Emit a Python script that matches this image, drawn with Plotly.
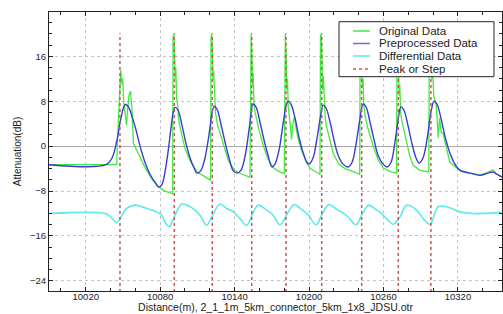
import plotly.graph_objects as go

# ---------------- data (distance m, attenuation dB) ----------------
orig_x = [9990.4, 10045.0, 10045.4, 10046.8, 10048.2, 10049.3, 10049.8, 10050.5, 10051.7, 10052.9,
          10053.7, 10054.9, 10056.1, 10057.3, 10058.4, 10062.1, 10067.8, 10073.4, 10078.3, 10083.9, 10090.0,
          10090.4, 10091.0, 10091.6, 10092.1, 10092.6, 10093.2, 10094.0, 10095.0, 10096.5, 10100.0,
          10104.0, 10109.7, 10115.0, 10120.6,
          10121.0, 10121.5, 10122.1, 10122.6, 10123.1, 10123.8, 10124.6, 10126.0, 10128.0, 10131.0,
          10135.0, 10140.0, 10146.0, 10152.4,
          10152.8, 10153.3, 10153.9, 10154.4, 10154.9, 10155.6, 10156.5, 10158.0, 10160.0, 10163.5,
          10167.0, 10171.0, 10175.0, 10180.0,
          10180.4, 10180.9, 10181.5, 10182.0, 10182.6, 10183.2, 10184.5, 10185.9, 10187.0, 10188.2,
          10189.3, 10191.0, 10194.0, 10198.0, 10201.0, 10205.0, 10208.8,
          10209.2, 10209.8, 10210.4, 10210.9, 10211.5, 10212.2, 10213.0, 10214.2, 10216.5, 10219.5,
          10224.0, 10229.0, 10234.0, 10240.8,
          10241.2, 10241.8, 10242.4, 10242.9, 10243.5, 10244.2, 10245.2, 10247.0, 10249.0, 10252.0,
          10256.0, 10260.0, 10265.0, 10270.5,
          10270.9, 10271.5, 10272.1, 10272.6, 10273.1, 10273.8, 10274.8, 10275.9, 10278.7, 10281.3,
          10284.0, 10289.4, 10296.5,
          10296.9, 10297.6, 10298.3, 10298.9, 10299.5, 10300.5, 10302.3, 10303.3, 10304.1, 10305.2,
          10306.5, 10308.0, 10310.7, 10313.4, 10314.7, 10321.6, 10329.6, 10337.7, 10342.0, 10345.5,
          10348.2, 10350.5, 10355.5]
orig_y = [-3.3, -3.3, 0.0, 8.2, 13.5, 10.9, 12.1, 8.2, 6.4, 3.7,
          6.4, 9.1, 9.8, 6.4, 0.5, -1.3, -3.8, -5.9, -7.2, -8.0, -8.5,
          19.5, 20.0, 16.5, 12.0, 14.0, 8.5, 7.6, 4.6, 2.9, -0.4,
          -2.5, -4.6, -5.3, -6.1,
          19.5, 20.0, 17.0, 12.0, 13.5, 8.0, 6.0, 4.0, 2.5, 0.0,
          -2.6, -4.3, -5.0, -5.5,
          19.5, 20.0, 17.0, 11.0, 13.0, 7.5, 6.0, 4.2, 2.5, -0.2,
          -2.3, -3.8, -4.4, -4.9,
          19.5, 20.0, 16.0, 10.0, 12.0, 7.0, 4.5, 1.2, 4.0, 5.2,
          3.5, 1.5, -0.8, -3.0, -4.0, -4.5, -5.0,
          19.5, 20.0, 16.0, 10.0, 12.5, 7.0, 5.0, 3.4, 1.5, -1.3,
          -3.2, -4.0, -4.4, -5.0,
          19.5, 20.0, 16.5, 10.5, 12.0, 7.0, 5.5, 3.5, 2.0, -0.2,
          -2.6, -3.9, -4.5, -4.8,
          19.0, 19.5, 15.0, 9.0, 11.0, 6.0, 4.5, 3.4, 0.5, -1.9,
          -3.4, -4.3, -4.6,
          18.5, 19.5, 17.0, 12.0, 14.0, 9.0, 7.6, 4.6, 1.5, 5.0,
          2.5, 2.3, 0.0, -2.8, -3.1, -4.3, -4.8, -5.1, -4.9, -4.5,
          -4.2, -4.9, -5.5]

pre_x = [9990.4, 10036.4, 10041.2, 10045.2, 10048.4, 10051.7, 10054.1, 10057.3, 10060.5, 10063.8,
         10067.8, 10071.8, 10075.8, 10079.1, 10081.5, 10083.9, 10086.3, 10088.7, 10090.4, 10092.0,
         10094.4, 10097.6, 10100.9, 10104.1, 10107.3, 10109.7, 10112.9, 10116.1, 10119.4, 10121.8,
         10123.4, 10125.8, 10129.0, 10132.3, 10135.5, 10138.7, 10141.9, 10145.1, 10148.4, 10151.6,
         10153.2, 10154.8, 10157.2, 10160.4, 10163.7, 10166.9, 10170.1, 10172.5, 10175.8, 10179.0,
         10181.4, 10183.0, 10185.4, 10188.7, 10191.9, 10195.1, 10198.4, 10200.0, 10203.2, 10206.4,
         10209.7, 10211.3, 10213.7, 10216.9, 10220.1, 10223.4, 10227.4, 10231.4, 10234.6, 10237.9,
         10241.1, 10243.5, 10245.9, 10249.1, 10252.4, 10255.6, 10259.6, 10262.8, 10266.0, 10269.2,
         10271.7, 10274.1, 10276.5, 10279.7, 10282.9, 10286.2, 10288.6, 10291.8, 10295.0, 10298.3,
         10300.7, 10303.1, 10306.3, 10309.5, 10313.5, 10317.6, 10321.6, 10329.6, 10337.7, 10344.1,
         10348.2, 10351.4, 10355.5]
pre_y = [-3.3, -3.3, -2.1, 1.1, 5.0, 7.4, 7.1, 5.3, 2.9, 0.0,
         -2.9, -5.0, -6.4, -7.3, -6.8, -4.6, -1.1, 3.2, 5.9, 6.9,
         6.4, 3.7, 0.4, -2.1, -3.9, -4.8, -4.3, -2.1, 2.1, 5.9,
         7.1, 6.6, 3.9, 0.7, -2.1, -4.3, -4.8, -4.3, -1.8, 2.9,
         5.7, 7.5, 7.0, 4.3, 1.1, -1.6, -3.7, -3.2, -0.7, 3.9,
         7.1, 8.0, 7.5, 5.0, 1.6, -1.1, -2.9, -3.2, -2.1, 1.4,
         5.9, 7.3, 6.8, 4.3, 1.1, -1.6, -3.2, -3.7, -2.9, 0.4,
         5.0, 7.5, 7.0, 4.3, 1.1, -1.6, -3.2, -3.7, -2.9, 0.7,
         4.6, 7.0, 6.4, 3.7, 0.5, -2.1, -3.0, -2.1, 1.1, 6.1,
         8.0, 7.5, 5.0, 1.8, -1.2, -3.2, -4.3, -4.8, -5.2, -4.8,
         -4.6, -5.0, -5.5]

diff_x = [9990.4, 10035.6, 10039.6, 10045.0, 10047.6, 10053.0, 10059.7, 10066.4, 10077.2, 10081.2,
          10084.7, 10087.5, 10092.0, 10097.4, 10101.4, 10108.1, 10112.1, 10117.5, 10121.5, 10128.2,
          10133.6, 10138.9, 10144.3, 10149.7, 10155.1, 10159.1, 10165.9, 10171.2, 10176.6, 10183.3,
          10187.9, 10193.5, 10199.1, 10205.6, 10211.2, 10216.1, 10222.5, 10228.1, 10232.2, 10237.8,
          10243.5, 10248.3, 10253.9, 10258.0, 10262.8, 10267.9, 10273.3, 10278.7, 10286.7, 10292.0,
          10297.4, 10304.1, 10310.9, 10321.6, 10332.3, 10355.2]
diff_y = [-12.0, -12.0, -12.5, -13.6, -12.9, -11.1, -10.5, -10.9, -11.7, -12.3,
          -13.8, -14.3, -12.3, -10.3, -10.5, -11.4, -12.3, -14.1, -12.6, -10.3,
          -11.1, -11.7, -12.9, -14.1, -11.7, -10.5, -11.4, -12.3, -14.0, -11.7,
          -10.4, -11.2, -12.2, -14.0, -11.8, -10.4, -11.3, -12.0, -12.8, -14.0,
          -11.8, -10.5, -11.3, -11.9, -13.0, -13.9, -12.6, -10.5, -11.4, -12.9,
          -13.9, -10.8, -10.8, -11.7, -12.0, -11.8]

peak_x = [10047.6, 10091.4, 10122.0, 10153.8, 10181.4, 10210.2, 10242.4, 10271.9, 10298.2]
peak_top = 20.1
peak_bottom = -26.0

legend_names = ["Original Data", "Preprocessed Data", "Differential Data", "Peak or Step"]

C_ORIG = "#44e844"
C_PRE = "#3c3cd2"
C_DIFF = "#5ceaea"
C_PEAK = "#e24b4b"

FONT = "Liberation Sans, Arial, sans-serif"

fig = go.Figure()
fig.add_trace(go.Scatter(x=diff_x, y=diff_y, mode="lines", line=dict(color=C_DIFF, width=1.6, shape="spline"),
                         name=legend_names[2]))
fig.add_trace(go.Scatter(x=orig_x, y=orig_y, mode="lines", line=dict(color=C_ORIG, width=1.3),
                         name=legend_names[0]))
fig.add_trace(go.Scatter(x=pre_x, y=pre_y, mode="lines", line=dict(color=C_PRE, width=1.4, shape="spline"),
                         name=legend_names[1]))

px_, py_ = [], []
for e in peak_x:
    px_ += [e, e, None]
    py_ += [peak_bottom, peak_top, None]
fig.add_trace(go.Scatter(x=px_, y=py_, mode="lines", line=dict(color=C_PEAK, width=1.5, dash="dot"),
                         name=legend_names[3]))

axis_common = dict(
    showline=True, linecolor="#222", linewidth=1.2, mirror="ticks",
    ticks="inside", ticklen=4, tickcolor="#222", tickwidth=1,
    showgrid=True, gridcolor="#c4c4c4", griddash="dot", gridwidth=1,
    tickfont=dict(family=FONT, size=9.5, color="#222"),
    automargin=False,
)
fig.update_xaxes(
    **axis_common, range=[9990.4, 10355.5], tick0=10020, dtick=60, tickformat="d", zeroline=False,
    ticklabelstandoff=-4,
    minor=dict(tick0=10020, dtick=20, ticks="inside", ticklen=2.5, tickcolor="#222", showgrid=False),
    title=dict(text="Distance(m), 2_1_1m_5km_connector_5km_1x8_JDSU.otr",
               font=dict(family=FONT, size=10.5, color="#222"), standoff=0),
)
fig.update_yaxes(
    **axis_common, range=[-25.8, 23.9], tick0=0, dtick=8,
    zeroline=True, zerolinecolor="#a8a8a8", zerolinewidth=1,
    minor=dict(tick0=0, dtick=2, ticks="inside", ticklen=2.5, tickcolor="#222", showgrid=False),
    title=dict(text="Attenuation(dB)", font=dict(family=FONT, size=10, color="#222"), standoff=6),
)

# manual compact legend (box, samples, labels)
lx0, lx1, ly0, ly1 = 0.6402, 0.9823, 0.7681, 0.9652
shapes = [dict(type="rect", xref="paper", yref="paper", x0=lx0, x1=lx1, y0=ly0, y1=ly1,
               line=dict(color="#222", width=1), fillcolor="white", layer="above")]
item_y = [0.9319, 0.8871, 0.8423, 0.7957]
sample_cols = [C_ORIG, "#6c6ce0", C_DIFF, C_PEAK]
sample_dash = ["solid", "solid", "solid", "dot"]
annotations = []
for name, yy, col, dsh in zip(legend_names, item_y, sample_cols, sample_dash):
    shapes.append(dict(type="line", xref="paper", yref="paper", x0=0.6711, x1=0.7086, y0=yy, y1=yy,
                       line=dict(color=col, width=1.5, dash=dsh), layer="above"))
    annotations.append(dict(xref="paper", yref="paper", x=0.7263, y=yy, text=name, showarrow=False,
                            xanchor="left", yanchor="middle", height=12, borderpad=0, valign="middle",
                            font=dict(family=FONT, size=11.5, color="#222")))

fig.update_layout(
    width=503, height=314, margin=dict(l=49, r=1, t=12, b=23),
    paper_bgcolor="white", plot_bgcolor="white", showlegend=False,
    font=dict(family=FONT, size=10, color="#222"),
    shapes=shapes, annotations=annotations,
)

fig.write_html("out.html", config={"displayModeBar": False},
               post_script="document.body.style.margin='0';document.body.style.overflow='hidden';")
